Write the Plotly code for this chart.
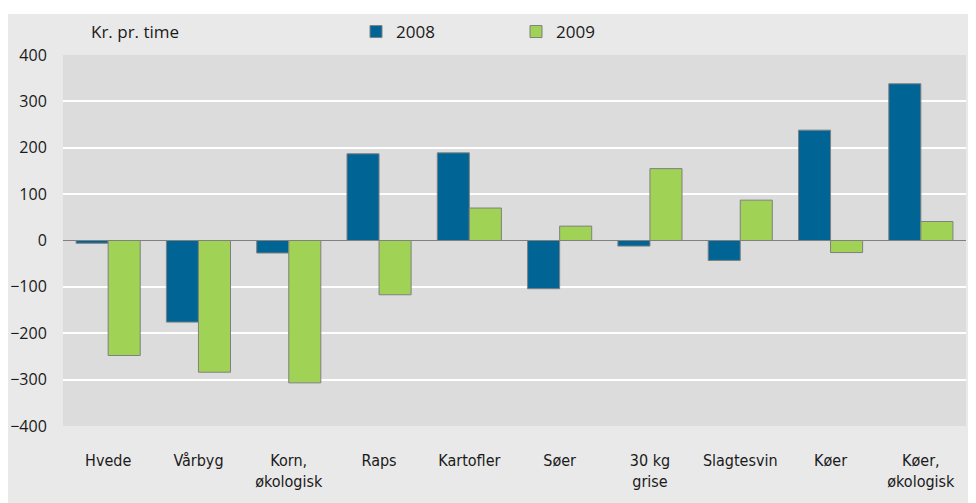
import plotly.graph_objects as go

categories = ["Hvede", "Vårbyg", "Korn,<br>økologisk", "Raps", "Kartofler", "Søer",
              "30 kg<br>grise", "Slagtesvin", "Køer", "Køer,<br>økologisk"]
values_2008 = [-6, -176, -27, 187, 189, -104, -12, -43, 238, 338]
values_2009 = [-248, -284, -307, -117, 70, 31, 155, 87, -26, 41]
y_ticks = [-400, -300, -200, -100, 0, 100, 200, 300, 400]

# the page body adds an 8px offset; figure coordinates are page coordinates minus 8
OFF = 8
W, H = 976 - OFF, 503 - OFF
L, R, T, B = 63 - OFF, 976 - 966, 55 - OFF, 503 - 426
pw = W - L - R
ph = H - T - B

def px_x(p):
    return (p - OFF - L) / pw

def px_y(p):
    return (H - B - (p - OFF)) / ph

fig = go.Figure()
fig.add_trace(go.Bar(x=categories, y=values_2008, name="2008",
                     marker=dict(color="#006595", line=dict(color="#808080", width=1))))
fig.add_trace(go.Bar(x=categories, y=values_2009, name="2009",
                     marker=dict(color="#9fd255", line=dict(color="#808080", width=1))))

fig.update_layout(
    width=W, height=H,
    margin=dict(l=L, r=R, t=T, b=B, pad=0, autoexpand=False),
    paper_bgcolor="#e9e9e9",
    plot_bgcolor="#dcdcdc",
    barmode="group",
    bargap=0.29,
    bargroupgap=0,
    font=dict(family="Open Sans", size=16, color="#1a1a1a"),
    showlegend=True,
    legend=dict(orientation="h", x=px_x(356), y=px_y(32), xanchor="left", yanchor="middle",
                bgcolor="rgba(0,0,0,0)", font=dict(family="Open Sans", size=17, color="#1a1a1a"),
                entrywidth=115, entrywidthmode="pixels", traceorder="normal"),
    xaxis=dict(tickfont=dict(family="DejaVu Sans Condensed", size=16, color="#1a1a1a"),
               ticks="outside", ticklen=20, tickcolor="rgba(0,0,0,0)",
               showgrid=False, showline=False, automargin=False),
    yaxis=dict(range=[-400, 400], tickvals=y_ticks, ticks="outside", ticklen=12,
               tickcolor="rgba(0,0,0,0)", gridcolor="#ffffff", gridwidth=2,
               zeroline=True, zerolinecolor="#808080", zerolinewidth=1,
               tickfont=dict(family="Open Sans", size=16, color="#1a1a1a"),
               showline=False, automargin=False),
    shapes=[
        dict(type="rect", xref="paper", yref="paper", x0=px_x(0), x1=px_x(976), y0=px_y(14), y1=px_y(0),
             fillcolor="#ffffff", line=dict(width=0), layer="below"),
    ],
    annotations=[
        dict(text="Kr. pr. time", xref="paper", yref="paper", x=px_x(89), y=px_y(32),
             xanchor="left", yanchor="middle", showarrow=False,
             font=dict(family="Open Sans", size=17, color="#1a1a1a")),
    ],
)

fig.write_html("out.html")
